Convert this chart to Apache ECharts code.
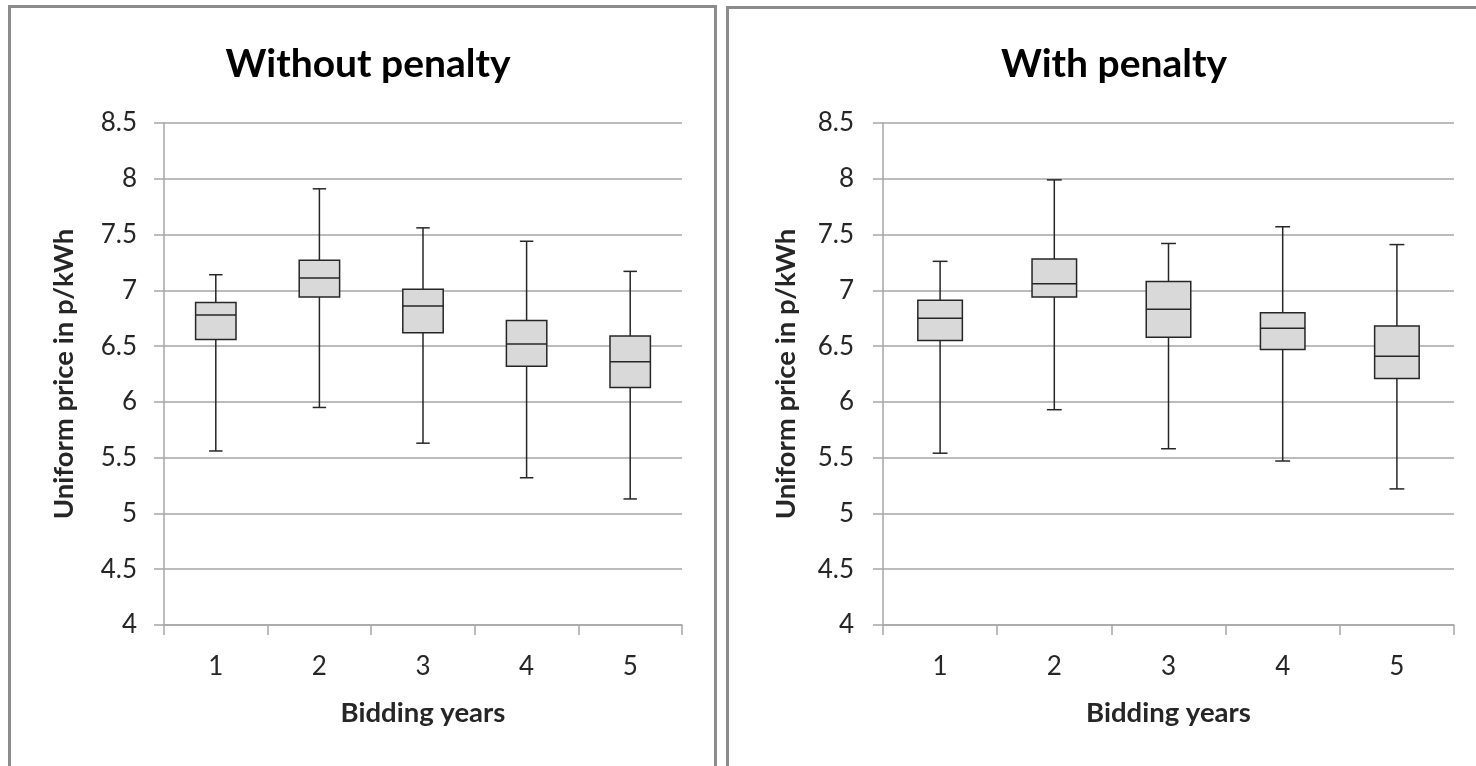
<!DOCTYPE html>
<html>
<head>
<meta charset="utf-8">
<script src="https://cdn.jsdelivr.net/npm/echarts@6/dist/echarts.min.js"></script>
<style>
  html, body { margin: 0; padding: 0; background: #ffffff; }
  #chart { width: 1476px; height: 766px; }
</style>
</head>
<body>
<div id="chart"></div>
<script>
// ---- Data ----
const categories = ['1', '2', '3', '4', '5'];
const panelTitles = ['Without penalty', 'With penalty'];
const xAxisName = 'Bidding years';
const yAxisName = 'Uniform price in p/kWh';

// [min, Q1, median, Q3, max] per bidding year
const withoutPenalty = [
  [5.56, 6.56, 6.78, 6.89, 7.14],
  [5.95, 6.94, 7.11, 7.27, 7.91],
  [5.63, 6.62, 6.86, 7.01, 7.56],
  [5.32, 6.32, 6.52, 6.73, 7.44],
  [5.13, 6.13, 6.36, 6.59, 7.17]
];
const withPenalty = [
  [5.54, 6.55, 6.75, 6.91, 7.26],
  [5.93, 6.94, 7.06, 7.28, 7.99],
  [5.58, 6.58, 6.83, 7.08, 7.42],
  [5.47, 6.47, 6.66, 6.80, 7.57],
  [5.22, 6.21, 6.41, 6.68, 7.41]
];

const yMin = 4, yMax = 8.5, yStep = 0.5;

// ---- Styling ----
const FONT = 'Lato, "Open Sans", sans-serif';
const GRID_COLOR = '#a6a6a6';
const INK = '#262626';
const BOX_FILL = '#d9d9d9';

function renderBox(params, api) {
  const x = api.value(0);
  const mn = api.coord([x, api.value(1)]);
  const q1 = api.coord([x, api.value(2)]);
  const md = api.coord([x, api.value(3)]);
  const q3 = api.coord([x, api.value(4)]);
  const mx = api.coord([x, api.value(5)]);
  const band = api.size([1, 0])[0];
  const hb = band * 0.39 / 2;
  const hc = band * 0.13 / 2;
  const cx = mn[0];
  const ls = { stroke: INK, lineWidth: 1.5 };
  return {
    type: 'group',
    children: [
      { type: 'line', shape: { x1: cx, y1: mx[1], x2: cx, y2: q3[1] }, style: ls },
      { type: 'line', shape: { x1: cx, y1: q1[1], x2: cx, y2: mn[1] }, style: ls },
      { type: 'line', shape: { x1: cx - hc, y1: mx[1], x2: cx + hc, y2: mx[1] }, style: ls },
      { type: 'line', shape: { x1: cx - hc, y1: mn[1], x2: cx + hc, y2: mn[1] }, style: ls },
      { type: 'rect', shape: { x: cx - hb, y: q3[1], width: hb * 2, height: q1[1] - q3[1] },
        style: { fill: BOX_FILL, stroke: INK, lineWidth: 1.5 } },
      { type: 'line', shape: { x1: cx - hb, y1: md[1], x2: cx + hb, y2: md[1] }, style: ls }
    ]
  };
}

function toData(rows) {
  return rows.map((r, i) => [i, r[0], r[1], r[2], r[3], r[4]]);
}

function makeXAxis(gi) {
  return {
    type: 'category', gridIndex: gi, data: categories, boundaryGap: true,
    name: xAxisName, nameLocation: 'middle', nameGap: 74,
    nameTextStyle: { fontFamily: FONT, fontSize: 27.5, fontWeight: 'bold', color: INK },
    axisLine: { show: true, lineStyle: { color: GRID_COLOR, width: 1.5 } },
    axisTick: { show: true, length: 10, alignWithLabel: false, lineStyle: { color: GRID_COLOR, width: 1.5 } },
    axisLabel: { margin: 29, fontFamily: FONT, fontSize: 26, color: INK },
    splitLine: { show: false }
  };
}
function makeYAxis(gi, gap, lblMargin) {
  return {
    type: 'value', gridIndex: gi, min: yMin, max: yMax, interval: yStep,
    name: yAxisName, nameLocation: 'middle', nameGap: gap,
    nameTextStyle: { fontFamily: FONT, fontSize: 27.5, fontWeight: 'bold', color: INK },
    axisLine: { show: true, lineStyle: { color: GRID_COLOR, width: 1.5 } },
    axisTick: { show: true, length: 10, lineStyle: { color: GRID_COLOR, width: 1.5 } },
    axisLabel: { margin: lblMargin, fontFamily: FONT, fontSize: 26, color: INK },
    splitLine: { show: true, lineStyle: { color: GRID_COLOR, width: 1.5 } }
  };
}

const chart = echarts.init(document.getElementById('chart'), null, { renderer: 'canvas' });
chart.setOption({
  animation: false,
  backgroundColor: '#ffffff',
  graphic: [
    { type: 'rect', shape: { x: 9.5, y: 6.5, width: 706, height: 800 },
      style: { fill: 'none', stroke: '#8c8c8c', lineWidth: 3 }, z: 100 },
    { type: 'rect', shape: { x: 727.5, y: 7.5, width: 800, height: 800 },
      style: { fill: 'none', stroke: '#8c8c8c', lineWidth: 3 }, z: 100 }
  ],
  title: [
    { text: panelTitles[0], left: 363, top: 40, textAlign: 'center',
      textStyle: { fontFamily: FONT, fontSize: 39, fontWeight: 'bold', color: '#000' } },
    { text: panelTitles[1], left: 1109, top: 40, textAlign: 'center',
      textStyle: { fontFamily: FONT, fontSize: 39, fontWeight: 'bold', color: '#000' } }
  ],
  grid: [
    { left: 164, right: 794, top: 123, bottom: 141 },
    { left: 883, right: 22, top: 123, bottom: 141 }
  ],
  xAxis: [makeXAxis(0), makeXAxis(1)],
  yAxis: [makeYAxis(0, 86, 27), makeYAxis(1, 83, 29)],
  series: [
    { type: 'custom', xAxisIndex: 0, yAxisIndex: 0, renderItem: renderBox,
      encode: { x: 0, y: [1, 2, 3, 4, 5] }, data: toData(withoutPenalty) },
    { type: 'custom', xAxisIndex: 1, yAxisIndex: 1, renderItem: renderBox,
      encode: { x: 0, y: [1, 2, 3, 4, 5] }, data: toData(withPenalty) }
  ]
});
</script>
</body>
</html>
